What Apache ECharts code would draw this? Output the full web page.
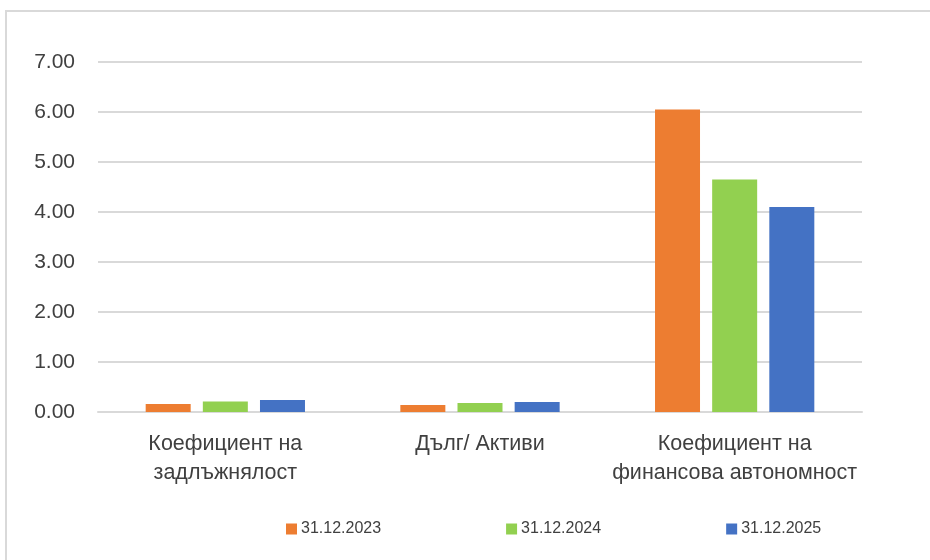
<!DOCTYPE html>
<html>
<head>
    <meta charset="UTF-8">
    <title>Коефициенти</title>
    <script src="https://cdn.jsdelivr.net/npm/echarts@6/dist/echarts.min.js"></script>
    <style>
        html, body { margin: 0; padding: 0; background: #fff; }
        #frame {
            position: absolute; left: 5px; top: 10px; width: 940px; height: 560px;
            border-left: 2px solid #d9d9d9; border-top: 2px solid #d9d9d9;
        }
        #main { position: absolute; left: 0; top: 0; width: 930px; height: 560px; }
    </style>
</head>
<body>
<div id="frame"></div>
<div id="main"></div>
<script type="text/javascript">
    var categories = ['Коефициент на\nзадлъжнялост', 'Дълг/ Активи', 'Коефициент на\nфинансова автономност'];
    var seriesNames = ['31.12.2023', '31.12.2024', '31.12.2025'];
    var values2023 = [0.16, 0.14, 6.05];
    var values2024 = [0.21, 0.18, 4.65];
    var values2025 = [0.24, 0.20, 4.10];
    var colors = ['#ED7D31', '#92D050', '#4472C4'];

    var font = '"Liberation Sans", sans-serif';

    var myChart = echarts.init(document.getElementById('main'));
    var option = {
        animation: false,
        color: colors,
        textStyle: { fontFamily: font },
        grid: { left: 98, right: 68, top: 62, bottom: 148 },
        legend: {
            left: 281,
            top: 516,
            itemWidth: 11,
            itemHeight: 11,
            itemGap: 125,
            icon: 'rect',
            textStyle: { fontSize: 16, color: '#404040', fontFamily: font, padding: [0, 0, 0, -1] },
            data: seriesNames
        },
        xAxis: {
            type: 'category',
            data: categories,
            axisLine: { lineStyle: { color: '#d9d9d9', width: 2 } },
            axisTick: { show: false },
            axisLabel: { interval: 0, fontSize: 21.5, color: '#404040', margin: 18, lineHeight: 29 }
        },
        yAxis: {
            type: 'value',
            min: 0,
            max: 7,
            interval: 1,
            axisLine: { show: false },
            axisTick: { show: false },
            splitLine: { lineStyle: { color: '#d9d9d9', width: 2 } },
            axisLabel: {
                fontSize: 21, color: '#404040', margin: 23,
                formatter: function (v) { return v.toFixed(2); }
            }
        },
        series: [
            { name: seriesNames[0], type: 'bar', data: values2023, barWidth: 45, barGap: '27%' },
            { name: seriesNames[1], type: 'bar', data: values2024, barWidth: 45, barGap: '27%' },
            { name: seriesNames[2], type: 'bar', data: values2025, barWidth: 45, barGap: '27%' }
        ]
    };
    myChart.setOption(option);
</script>
</body>
</html>
